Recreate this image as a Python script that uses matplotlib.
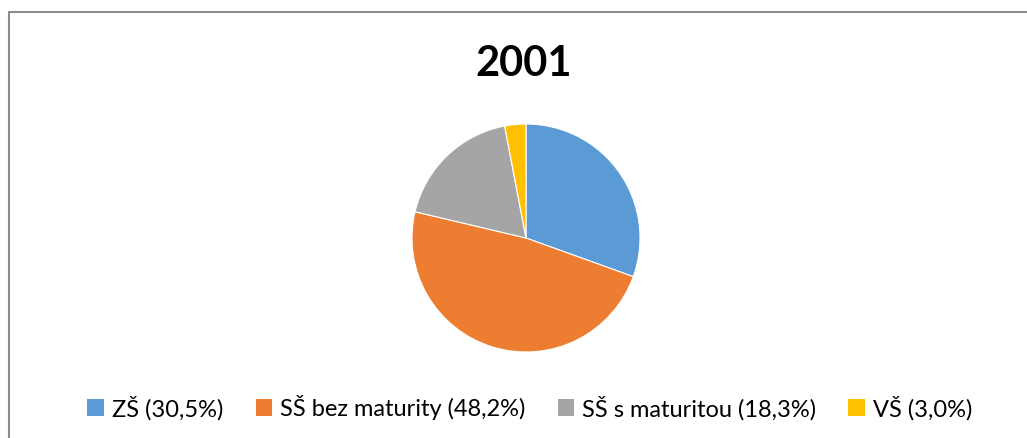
import matplotlib
matplotlib.use('Agg')
import matplotlib.pyplot as plt
from matplotlib.patches import Rectangle, Patch

# data
labels = ['ZŠ (30,5%)', 'SŠ bez maturity (48,2%)', 'SŠ s maturitou (18,3%)', 'VŠ (3,0%)']
values = [30.5, 48.2, 18.3, 3.0]
colors = ['#5B9BD5', '#ED7D31', '#A5A5A5', '#FFC000']
title = '2001'

plt.rcParams['font.family'] = ['Lato', 'DejaVu Sans']

W, H = 1027, 439
fig = plt.figure(figsize=(W / 100, H / 100), dpi=100)

# chart border (runs off right and bottom edges)
fig.patches.append(Rectangle((9 / W, -0.05), 1.1, 1 - 13 / H + 0.05, transform=fig.transFigure,
                             fill=False, edgecolor='#8c8c8c', linewidth=1.5))

cx, cy, r = 526, 239, 114
ax = fig.add_axes([(cx - r) / W, (H - cy - r) / H, 2 * r / W, 2 * r / H])
ax.pie(values, colors=colors, startangle=90, counterclock=False, radius=1,
       wedgeprops=dict(edgecolor='white', linewidth=0.8))
ax.set_xlim(-1, 1)
ax.set_ylim(-1, 1)
ax.set_aspect('equal')
ax.axis('off')

fig.text(524 / W, 1 - 64 / H, title, ha='center', va='center', fontsize=30, fontweight='bold')

handles = [Patch(facecolor=c, edgecolor='none') for c in colors]
fig.legend(handles, labels, loc='center', bbox_to_anchor=(530 / W, 1 - 408 / H), ncol=4,
           frameon=False, fontsize=17, handlelength=0.7, handleheight=0.7,
           handletextpad=0.35, columnspacing=1.35)

fig.savefig('out.png', dpi=100)
